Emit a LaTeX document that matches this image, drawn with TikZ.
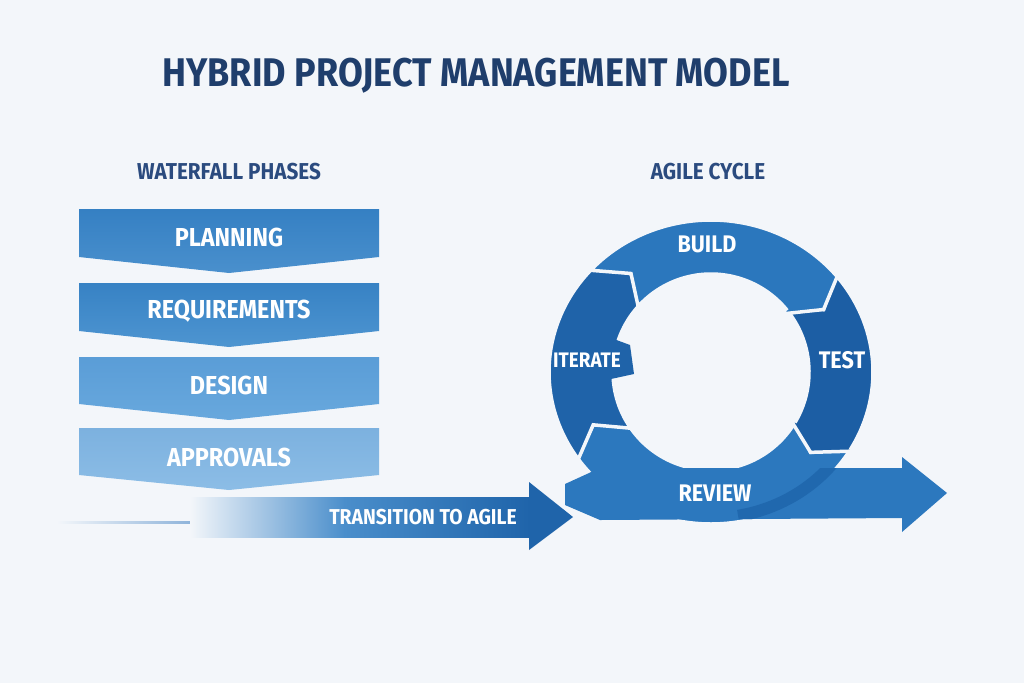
\documentclass[tikz,border=0pt]{standalone}
\usepackage{fontspec}
\setmainfont{Fira Sans}[FakeStretch=0.9]
\usetikzlibrary{calc}

\definecolor{bgpaper}{HTML}{F3F6FA}
\definecolor{titleblue}{HTML}{1F3E6C}
\definecolor{subblue}{HTML}{2B4B7F}
\definecolor{buildblue}{HTML}{2B77BD}
\definecolor{testblue}{HTML}{1C5EA4}
\definecolor{iterblue}{HTML}{1F63A9}
\definecolor{reviewblue}{HTML}{2C78BE}
\definecolor{reviewdark}{HTML}{2068AE}
\definecolor{lineblue}{HTML}{3C7DC0}
\definecolor{arrowmid}{HTML}{4A8ECB}
\definecolor{arrowdark}{HTML}{1F64AA}
\definecolor{planA}{HTML}{3580C3}
\definecolor{planB}{HTML}{4A90CD}
\definecolor{reqA}{HTML}{3782C4}
\definecolor{reqB}{HTML}{4E95D1}
\definecolor{desA}{HTML}{5A9DD7}
\definecolor{desB}{HTML}{68A8DD}
\definecolor{appA}{HTML}{7CB1DF}
\definecolor{appB}{HTML}{8CBDE6}

\tikzset{
  heading/.style={font=\bfseries\fontsize{40}{44}\selectfont, text=titleblue},
  subheading/.style={font=\bfseries\fontsize{23}{26}\selectfont, text=subblue},
  phaselabel/.style={font=\bfseries\fontsize{26}{30}\selectfont, text=white},
  cyclelabel/.style={font=\bfseries\fontsize{24}{28}\selectfont, text=white},
  gap/.style={draw=bgpaper, line width=3.5pt, line join=miter}
}

% one piece of the ring: tail angle, head angle, colour
\newcommand{\cyclearrow}[3]{
  \filldraw[gap, fill=#3] ($(c)+(#1:162 and 152)$)
    arc[start angle=#1, end angle=#2, x radius=162, y radius=152]
    -- ($(c)+(#2:168 and 158)$) -- ($(c)+(#2-10:130 and 125)$)
    -- ($(c)+(#2:90)$) -- ($(c)+(#2:98)$)
    arc[start angle=#2, end angle=#1, radius=98]
    -- ($(c)+(#1-10:130 and 125)$) -- cycle;
}

\begin{document}
\begin{tikzpicture}[x=1pt, y=1pt]
  \fill[bgpaper] (0,0) rectangle (1024,-683);

  \node[heading] (title) at (476,-76) {HYBRID PROJECT MANAGEMENT MODEL};
  \node[subheading] (wf) at (229,-172) {WATERFALL PHASES};
  \node[subheading] (ag) at (708,-172) {AGILE CYCLE};

  % waterfall
  \shade[top color=planA, bottom color=planB]
    (79,-209) -- (379,-209) -- (379,-257) -- (229,-273) -- (79,-257) -- cycle;
  \node[phaselabel] (plan) at (229,-237) {PLANNING};
  \shade[top color=reqA, bottom color=reqB]
    (79,-283) -- (379,-283) -- (379,-331) -- (229,-347) -- (79,-331) -- cycle;
  \node[phaselabel] (req) at (229,-311) {REQUIREMENTS};
  \shade[top color=desA, bottom color=desB]
    (79,-357) -- (379,-357) -- (379,-404) -- (229,-420) -- (79,-404) -- cycle;
  \node[phaselabel] (des) at (229,-385) {DESIGN};
  \shade[top color=appA, bottom color=appB]
    (79,-428) -- (379,-428) -- (379,-475) -- (229,-490) -- (79,-475) -- cycle;
  \node[phaselabel] (appr) at (229,-457) {APPROVALS};

  % transition arrow
  \shade[left color=bgpaper, right color=lineblue] (57,-521) rectangle (300,-523.5);
  \shade[left color=bgpaper, right color=arrowmid] (190,-497) rectangle (345,-537);
  \shade[left color=arrowmid, right color=arrowdark] (344,-497) rectangle (530,-537);
  \fill[arrowdark] (529,-497) -- (529,-482) -- (573,-517) -- (529,-550) -- (529,-537) -- cycle;
  \node[font=\bfseries\fontsize{21.5}{24}\selectfont, text=white] (trans) at (423,-517) {TRANSITION TO AGILE};

  % agile ring
  \coordinate (c) at (711,-372);
  \cyclearrow{-30}{-145}{reviewblue}
  \cyclearrow{40}{-30}{testblue}
  \cyclearrow{215}{138}{iterblue}
  \cyclearrow{138}{40}{buildblue}
  \fill[iterblue] (611,-338) -- (630,-345) -- (634,-374) -- (611,-379) -- cycle;

  % review banner
  \fill[reviewblue] (600,-468) -- (902,-468) -- (902,-457) -- (947,-493) -- (902,-532)
    -- (902,-518) -- (600,-520) -- (565,-505) -- (565,-484) -- cycle;
  \begin{scope}
    \clip (600,-468) -- (902,-468) -- (902,-518) -- (600,-520) -- cycle;
    \draw[reviewdark, line width=12pt] ($(c)+(-10:156 and 146)$)
      arc[start angle=-10, end angle=-80, x radius=156, y radius=146];
  \end{scope}

  \node[cyclelabel] (build) at (707,-244) {BUILD};
  \node[cyclelabel] (test) at (842,-360) {TEST};
  \node[cyclelabel, font=\bfseries\fontsize{21}{24}\selectfont] (iter) at (587,-360) {ITERATE};
  \node[cyclelabel] (rev) at (715,-493) {REVIEW};
\end{tikzpicture}
\end{document}
